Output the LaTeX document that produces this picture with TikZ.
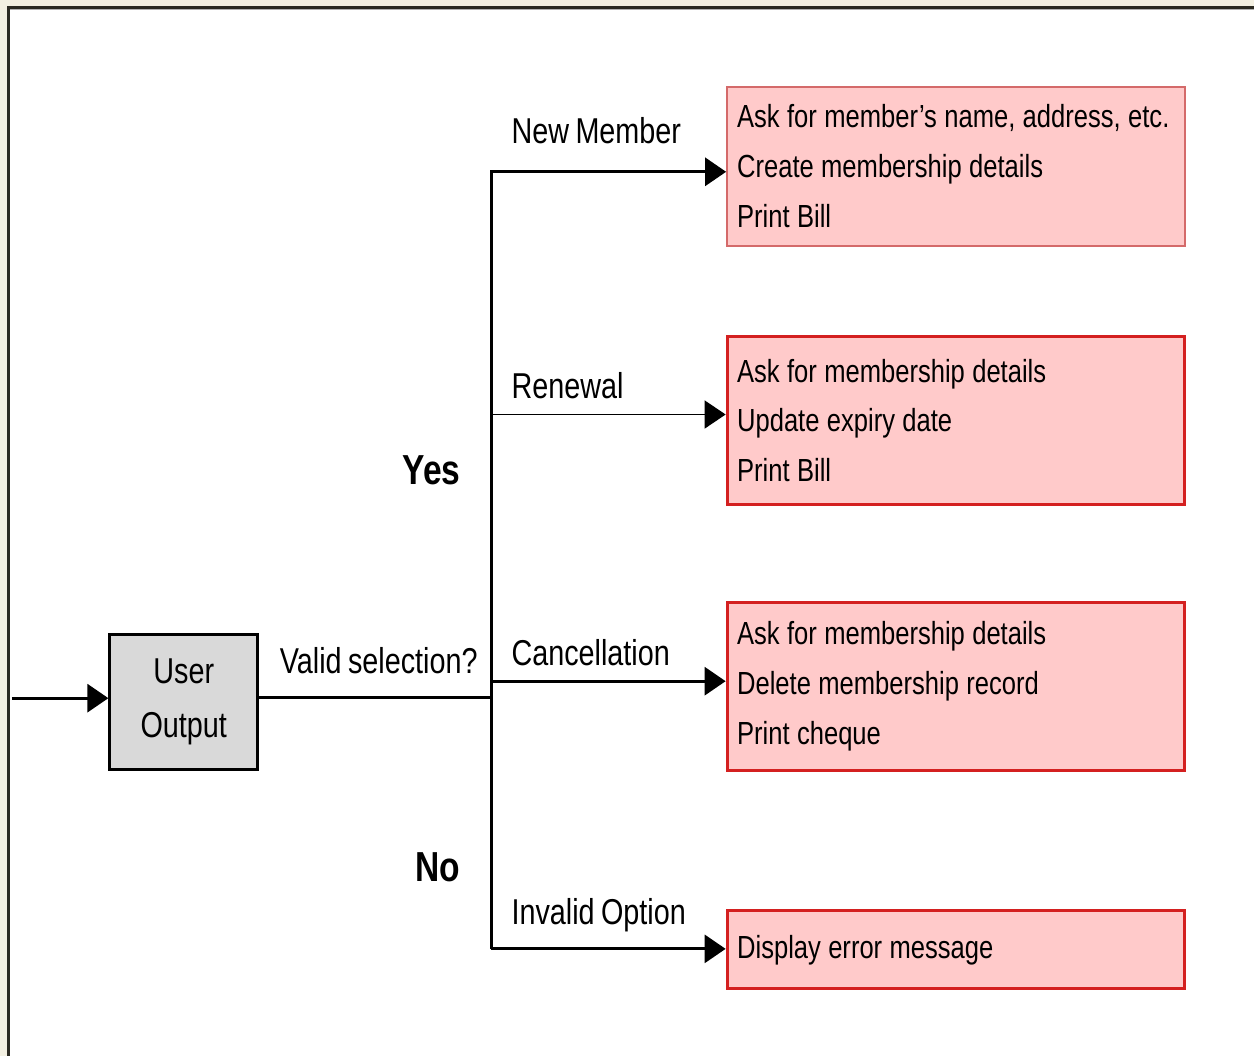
\documentclass[tikz,border=0pt]{standalone}
\usepackage{fontspec}
\setmainfont{Liberation Sans}
\newfontfamily\nar[FakeStretch=0.8,WordSpace=0.8]{Liberation Sans}
\usetikzlibrary{arrows.meta}
\definecolor{bgbeige}{HTML}{F3F0E2}
\definecolor{framecol}{HTML}{2B2A22}
\definecolor{pinkfill}{HTML}{FFCACA}
\definecolor{redline}{HTML}{D42020}
\definecolor{palered}{HTML}{D46A6A}
\definecolor{grayfill}{HTML}{D9D9D9}
\begin{document}
\begin{tikzpicture}[x=1pt,y=-1pt,
 conn/.style={line width=3pt, -{Triangle[length=21pt,width=28pt]}},
 actbox/.style={draw=redline, line width=3pt, fill=pinkfill, minimum width=458pt, inner xsep=10pt, text width=438pt, align=left, font=\nar\fontsize{32}{50}\selectfont, execute at begin node={\spaceskip=0.23em plus 0.1em minus 0.05em\relax}},
 lbl/.style={anchor=base west, inner sep=0pt, font=\nar\fontsize{36}{40}\selectfont},
 big/.style={anchor=base west, inner sep=0pt, font=\nar\bfseries\fontsize{42}{46}\selectfont}]
% frame
\fill[bgbeige] (0,0) rectangle (1255,1057);
\fill[white] (10,9) rectangle (1255,1057);
\draw[framecol, line width=3pt] (8.5,1057) -- (8.5,7.5) -- (1255,7.5);
\draw[gray!60, line width=1pt] (10,9.5) -- (1255,9.5);
% nodes
\node[draw, line width=3pt, fill=grayfill, minimum width=148pt, minimum height=135pt, align=center, font=\nar\fontsize{36}{54}\selectfont] (uo) at (184,702.5) {User\\Output};
\node[actbox, draw=palered, line width=2pt, minimum height=159pt] (b1) at (957,166.5) {Ask for member’s name, address, etc.\\Create membership details\\Print Bill};
\node[actbox, minimum height=168pt] (b2) at (957,421) {Ask for membership details\\Update expiry date\\Print Bill};
\node[actbox, minimum height=168pt] (b3) at (957,687) {Ask for membership details\\Delete membership record\\Print cheque};
\node[actbox, minimum height=78pt] (b4) at (957,951) {Display error message};
% labels
\node[lbl] (l0) at (280,674) {Valid selection?};
\node[lbl] (l1) at (512,144) {New Member};
\node[lbl] (l2) at (512,399) {Renewal};
\node[lbl] (l3) at (512,666) {Cancellation};
\node[lbl] (l4) at (512,926) {Invalid Option};
\node[big] (yes) at (403,485) {Yes};
\node[big] (no) at (416,883) {No};
% connectors
\coordinate (in) at (12,699);
\coordinate (j) at (492,698);
\coordinate (t) at (492,172);
\coordinate (r) at (492,415);
\coordinate (c) at (492,682);
\coordinate (v) at (492,950);
\draw[conn] (in) -- (in -| uo.west);
\draw[line width=3pt] (uo.east |- j) -- (j);
\draw[conn] (v) -- (t) -- (t -| b1.west);
\draw[conn, line width=1.5pt] (r) -- (r -| b2.west);
\draw[conn] (c) -- (c -| b3.west);
\draw[conn] (v) -- (v -| b4.west);
\end{tikzpicture}
\end{document}
